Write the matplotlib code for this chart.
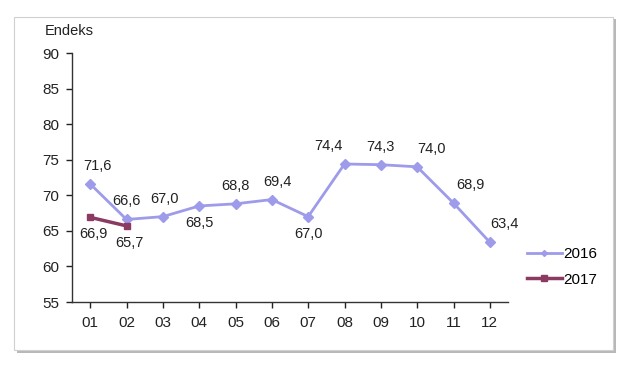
import numpy as np
import matplotlib.pyplot as plt
from matplotlib.patches import Rectangle
from matplotlib.lines import Line2D

plt.rcParams['font.family'] = ['Liberation Sans', 'DejaVu Sans']

months = ["01", "02", "03", "04", "05", "06", "07", "08", "09", "10", "11", "12"]
v2016 = [71.6, 66.6, 67.0, 68.5, 68.8, 69.4, 67.0, 74.4, 74.3, 74.0, 68.9, 63.4]
v2017 = [66.9, 65.7]
lab2016 = ["71,6", "66,6", "67,0", "68,5", "68,8", "69,4", "67,0", "74,4", "74,3", "74,0", "68,9", "63,4"]
lab2017 = ["66,9", "65,7"]
below2016 = [False, False, False, True, False, False, True, False, False, False, False, False]
# horizontal nudges of the value labels (pixels)
dx2016 = [7, 0, 2, 0, 0, 6, 0, -16, 0, 14, 17, 15]

c16 = '#9d9bea'
c17 = '#8b3a62'

fig = plt.figure(figsize=(6.26, 3.67), dpi=100)

# outer frame with shadow
W, H = 626, 367
fig.patches.append(Rectangle((17/W, 14/H), 599/W, 334/H, transform=fig.transFigure,
                             facecolor='#b8b8b8', edgecolor='none', zorder=-2))
fig.patches.append(Rectangle((14/W, 17/H), 599/W, 333/H, transform=fig.transFigure,
                             facecolor='white', edgecolor='#d0d0d0', lw=0.8, zorder=-1))

ax = fig.add_axes([72/W, 65/H, 436/W, 249/H])
ax.set_zorder(5)
ax.set_facecolor('none')
x = np.arange(1, 13)
ax.plot(x, v2016, color=c16, lw=2, marker='D', ms=5, label='2016', zorder=3)
ax.plot(x[:2], v2017, color=c17, lw=2.5, marker='s', ms=5, label='2017', zorder=4)

for xi, v, t, b, d in zip(x, v2016, lab2016, below2016, dx2016):
    if b:
        ax.annotate(t, (xi, v), xytext=(d, -10), textcoords='offset pixels',
                    ha='center', va='top', fontsize=10.5, color='#222222')
    else:
        ax.annotate(t, (xi, v), xytext=(d, 11), textcoords='offset pixels',
                    ha='center', va='bottom', fontsize=10.5, color='#222222')
for xi, v, t in zip(x[:2], v2017, lab2017):
    ax.annotate(t, (xi, v), xytext=(3, -10), textcoords='offset pixels',
                ha='center', va='top', fontsize=10.5, color='#222222')

ax.set_xlim(0.5, 12.5)
ax.set_ylim(55, 90)
ax.set_yticks(np.arange(55, 91, 5))
ax.set_xticks(x)
ax.set_xticklabels(months)
ax.tick_params(labelsize=11, colors='#222222', length=4, width=1, pad=6)
ax.tick_params(axis='y', pad=5)
for s in ['top', 'right']:
    ax.spines[s].set_visible(False)
for s in ['left', 'bottom']:
    ax.spines[s].set_color('#333333')
    ax.spines[s].set_linewidth(1)

fig.text(45/W, 1 - 31/H, 'Endeks', fontsize=10.5, color='#222222', va='center', ha='left')

handles = [Line2D([], [], color=c16, lw=2, marker='D', ms=3),
           Line2D([], [], color=c17, lw=2.5, marker='s', ms=5)]
fig.legend(handles, ['2016', '2017'], loc='center left', bbox_to_anchor=(513/W, 1 - 267/H),
           frameon=False, fontsize=11, handlelength=2.3, handletextpad=0.1, labelspacing=0.75)

fig.savefig('out.png', dpi=100)
